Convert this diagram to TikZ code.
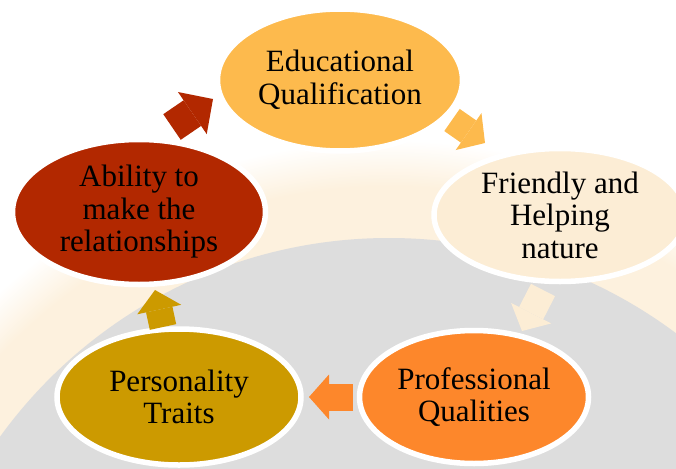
\documentclass[tikz,border=0pt]{standalone}
\usepackage{fontspec}
\setmainfont{Liberation Serif}
\usetikzlibrary{shapes.geometric,arrows.meta}

\definecolor{educcol}{RGB}{253,186,77}
\definecolor{frndcol}{RGB}{252,237,213}
\definecolor{profcol}{RGB}{253,135,43}
\definecolor{perscol}{RGB}{204,154,0}
\definecolor{abilcol}{RGB}{178,40,0}
\definecolor{bandcol}{RGB}{253,241,222}
\definecolor{diskcol}{RGB}{221,221,221}

\pgfdeclareradialshading{glow}{\pgfpoint{0bp}{0bp}}{%
  color(0bp)=(bandcol); color(23bp)=(bandcol); color(25bp)=(white); color(50bp)=(white)}

\tikzset{
  bubble/.style={ellipse, draw=white, line width=5.5pt, inner sep=0pt,
    align=center, font=\fontsize{31}{32.5}\selectfont},
  blk/.style={line width=27pt, -{Triangle[length=20pt,width=45pt,line width=0pt]}},
}

\begin{document}
\begin{tikzpicture}[x=1pt,y=-1pt]
    \useasboundingbox (0,0) rectangle (676,468);
    \begin{scope}
        \clip (0,0) rectangle (676,468);
        \shade[shading=glow] (389,718) circle (578);
        \fill[diskcol] (389,718) circle (480);
    \end{scope}

    \node[bubble, fill=educcol, minimum width=245pt, minimum height=142pt] (educ) at (340,80) {Educational\\Qualification};
    \node[bubble, fill=frndcol, minimum width=252pt, minimum height=133pt] (frnd) at (560,215) {Friendly and\\Helping\\nature};
    \node[bubble, fill=profcol, minimum width=229pt, minimum height=133pt] (prof) at (474,397) {Professional\\Qualities};
    \node[bubble, fill=perscol, minimum width=244pt, minimum height=136pt] (pers) at (179,397) {Personality\\Traits};
    \node[bubble, fill=abilcol, minimum width=253pt, minimum height=145pt] (abil) at (139,212) {Ability to\\make the\\relationships};

    \draw[blk, draw=abilcol, line width=31pt, -{Triangle[length=25pt,width=51pt,line width=0pt]}]
        ([shift={(33,-85)}]abil.center) -- ([shift={(-127,19)}]educ.center);
    \draw[blk, draw=educcol] ([shift={(112,40)}]educ.center) -- ([shift={(-75,-72)}]frnd.center);
    \draw[blk, draw=frndcol] ([shift={(-17,75)}]frnd.center) -- ([shift={(48,-66)}]prof.center);
    \draw[blk, draw=profcol] ([shift={(-121,0)}]prof.center) -- ([shift={(130,0)}]pers.center);
    \draw[blk, draw=perscol] ([shift={(-16,-70)}]pers.center) -- ([shift={(16,78)}]abil.center);
\end{tikzpicture}
\end{document}
